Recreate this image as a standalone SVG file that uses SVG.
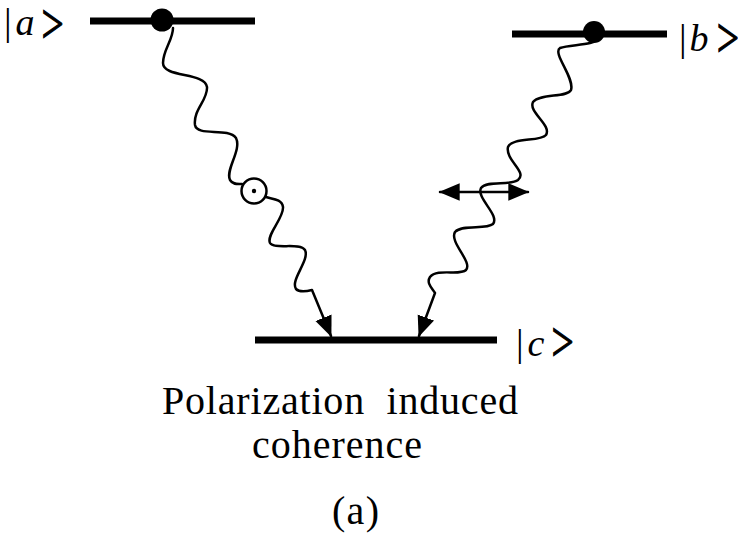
<svg xmlns="http://www.w3.org/2000/svg" width="738" height="534" viewBox="0 0 738 534">
<style>
.lvl{stroke:#000;stroke-width:7;fill:none}
.wave{stroke:#000;stroke-width:2.5;fill:none;stroke-linecap:round;stroke-linejoin:round}
.lbl{font-family:"Liberation Serif","Times New Roman",serif;font-size:38px;fill:#000}
.ket{font-family:"Liberation Serif","Times New Roman",serif;font-size:58px;fill:#000;stroke:#000;stroke-width:1.2}
.cap{font-family:"Liberation Serif","Times New Roman",serif;font-size:40px;fill:#000}
</style>
<defs>
<marker id="ah" markerUnits="userSpaceOnUse" markerWidth="22" markerHeight="18" refX="17" refY="7.5" orient="auto-start-reverse" viewBox="0 0 19 15">
<path d="M0,0 L18,7.5 L0,15 Z" fill="#000"/>
</marker>
</defs>
<rect width="738" height="534" fill="#fff"/>
<g id="level-a">
<line class="lvl" x1="90" y1="21" x2="255" y2="21"/>
<circle cx="162" cy="20" r="11.5" fill="#000"/>
<text class="lbl" x="4" y="35">|<tspan font-style="italic" dx="4">a</tspan></text>
<text class="ket" x="61" y="43" transform="scale(0.68,1)">&gt;</text>
</g>
<g id="level-b">
<line class="lvl" x1="512" y1="34" x2="667" y2="34"/>
<circle cx="594" cy="32" r="11" fill="#000"/>
<text class="lbl" x="679" y="51">|<tspan font-style="italic" dx="3">b</tspan></text>
<text class="ket" x="1054" y="57" transform="scale(0.68,1)">&gt;</text>
</g>
<g id="level-c">
<line class="lvl" x1="255" y1="340" x2="497" y2="340"/>
<text class="lbl" x="516" y="356">|<tspan font-style="italic" dx="4">c</tspan></text>
<text class="ket" x="811" y="361" transform="scale(0.68,1)">&gt;</text>
</g>
<g id="connectors">
<path class="wave" marker-end="url(#ah)" d="M173,28 C173,40 163,50 163,63 C163,78 205,72 207,87 C208,100 193,110 195,125 C197,137 228,127 236,138 C242,150 225,170 230,180 C233,185 238,184 242,184 M266,197 C272,199 282,199 283,207 C284,218 266,235 270,243 C274,250 300,242 305,250 C310,260 290,280 296,289 C300,293 308,291 312,290 L331,336"/>
<circle cx="254" cy="191" r="12.5" fill="none" stroke="#000" stroke-width="2.5"/>
<circle cx="254" cy="191" r="2.2" fill="#000"/>
<path class="wave" marker-end="url(#ah)" d="M597,38 C596,46 570,44 560,48 C552,53 575,78 571,90 C567,98 540,93 533,102 C528,112 552,125 546,135 C540,142 512,137 508,147 C505,160 528,172 518,180 C510,186 487,180 481,188 C476,198 500,215 493,224 C486,230 462,224 455,232 C449,242 473,262 466,270 C460,276 437,268 430,277 C426,283 432,288 435,293 L419,336"/>
<line class="wave" x1="440" y1="192" x2="528" y2="192" marker-start="url(#ah)" marker-end="url(#ah)"/>
</g>
<g id="caption">
<text class="cap" x="162" y="414" textLength="356" lengthAdjust="spacing" xml:space="preserve">Polarization  induced</text>
<text class="cap" x="252" y="458" textLength="170" lengthAdjust="spacing">coherence</text>
<text class="cap" x="332" y="524" textLength="47" lengthAdjust="spacing">(a)</text>
</g>
</svg>
